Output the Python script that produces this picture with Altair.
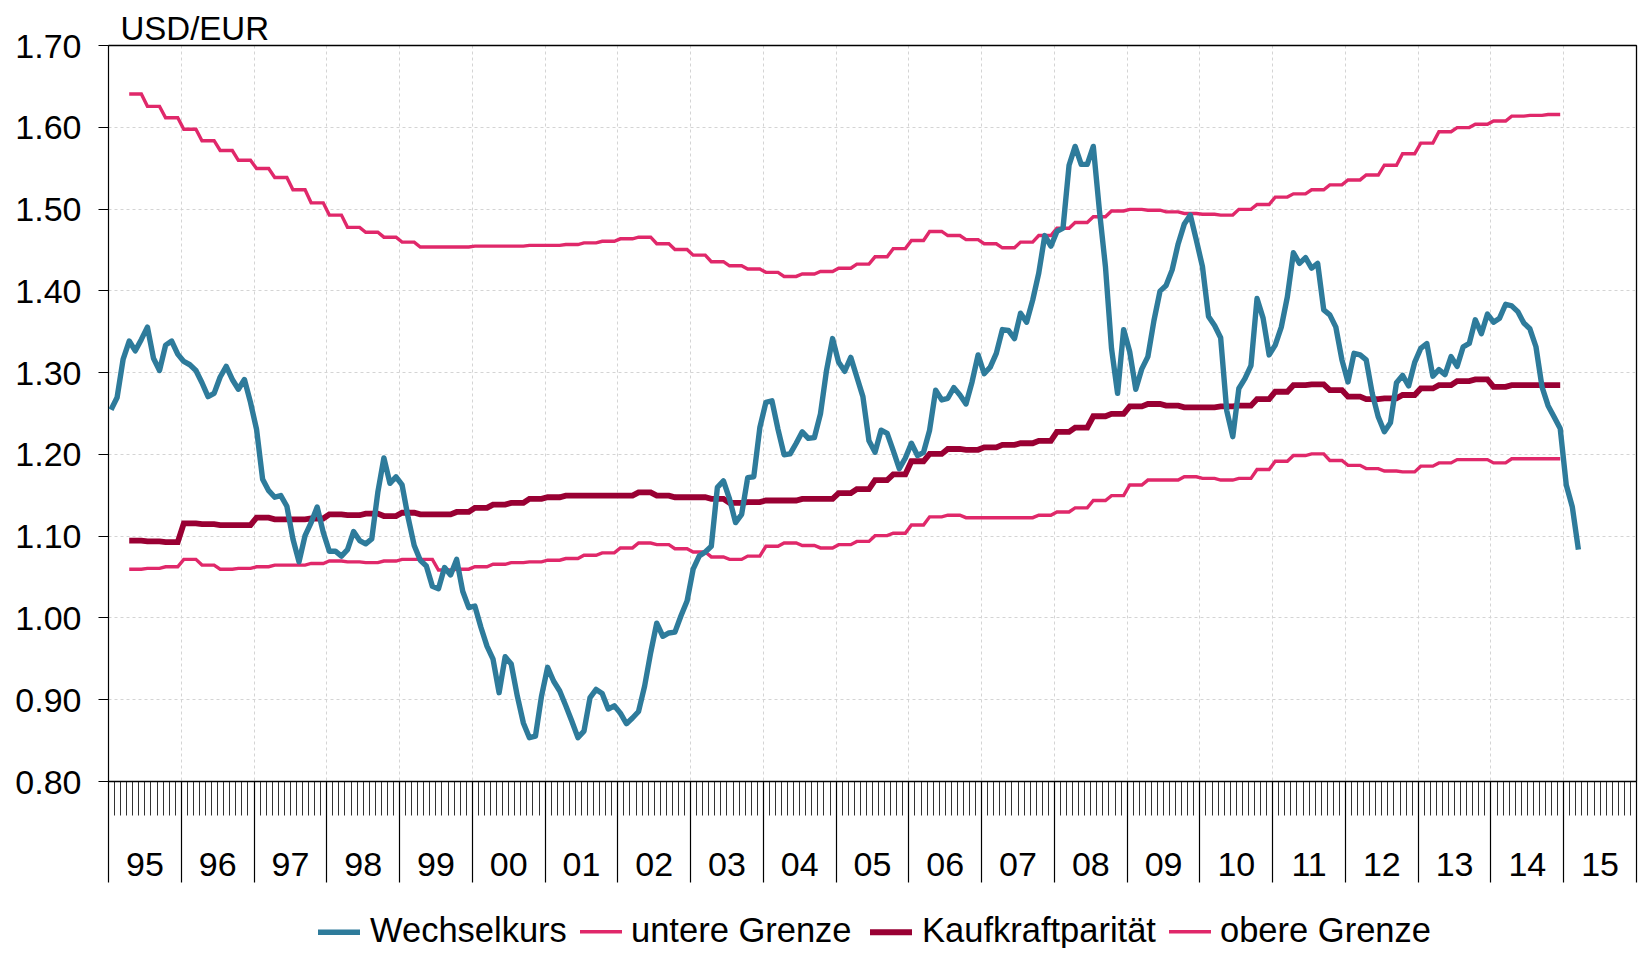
import json
import altair as alt
import pandas as pd

# ---------------- data ----------------
START_YEAR = 1995
YEAR_LABELS = ["95", "96", "97", "98", "99", "00", "01", "02", "03", "04", "05",
               "06", "07", "08", "09", "10", "11", "12", "13", "14", "15"]
YEAR_TICKS = list(range(1995, 2017))
Y_TICKS = [0.80, 0.90, 1.00, 1.10, 1.20, 1.30, 1.40, 1.50, 1.60, 1.70]

SERIES = ["Wechselkurs", "untere Grenze", "Kaufkraftparität", "obere Grenze"]
COLORS = ["#2E7B9B", "#E0286A", "#990033", "#E0286A"]
WIDTHS = [5.4, 3.4, 5.8, 3.4]

# Monthly exchange rate, Jan 1995 .. Mar 2015
FX = [
    1.254, 1.269, 1.316, 1.338, 1.326, 1.340, 1.355, 1.317, 1.302, 1.333, 1.338, 1.322,  # 1995
    1.313, 1.309, 1.302, 1.287, 1.270, 1.274, 1.294, 1.307, 1.291, 1.279, 1.291, 1.263,  # 1996
    1.230, 1.169, 1.155, 1.147, 1.149, 1.136, 1.096, 1.068, 1.100, 1.116, 1.135, 1.104,  # 1997
    1.081, 1.081, 1.075, 1.083, 1.105, 1.094, 1.090, 1.096, 1.153, 1.195, 1.164, 1.172,  # 1998
    1.162, 1.122, 1.088, 1.070, 1.063, 1.038, 1.035, 1.061, 1.052, 1.071, 1.032, 1.012,  # 1999
    1.014, 0.988, 0.965, 0.949, 0.908, 0.952, 0.943, 0.904, 0.871, 0.853, 0.855, 0.904,  # 2000
    0.939, 0.922, 0.910, 0.892, 0.873, 0.853, 0.861, 0.902, 0.912, 0.907, 0.888, 0.892,  # 2001
    0.883, 0.870, 0.877, 0.885, 0.916, 0.957, 0.993, 0.977, 0.981, 0.982, 1.002, 1.020,  # 2002
    1.059, 1.075, 1.080, 1.087, 1.159, 1.167, 1.145, 1.116, 1.126, 1.171, 1.172, 1.232,  # 2003
    1.263, 1.265, 1.230, 1.199, 1.200, 1.213, 1.227, 1.219, 1.220, 1.249, 1.302, 1.341,  # 2004
    1.312, 1.301, 1.318, 1.294, 1.270, 1.216, 1.202, 1.229, 1.225, 1.204, 1.182, 1.195,  # 2005
    1.213, 1.198, 1.202, 1.229, 1.278, 1.266, 1.268, 1.281, 1.272, 1.261, 1.288, 1.321,  # 2006
    1.298, 1.306, 1.323, 1.352, 1.351, 1.341, 1.372, 1.361, 1.388, 1.421, 1.467, 1.454,  # 2007
    1.472, 1.476, 1.553, 1.576, 1.554, 1.554, 1.576, 1.498, 1.429, 1.329, 1.274, 1.352,  # 2008
    1.325, 1.279, 1.304, 1.319, 1.363, 1.399, 1.406, 1.425, 1.457, 1.481, 1.492, 1.461,  # 2009
    1.429, 1.368, 1.357, 1.342, 1.253, 1.221, 1.280, 1.292, 1.308, 1.390, 1.366, 1.321,  # 2010
    1.333, 1.355, 1.392, 1.446, 1.433, 1.440, 1.427, 1.433, 1.376, 1.370, 1.355, 1.315,  # 2011
    1.288, 1.323, 1.321, 1.315, 1.274, 1.245, 1.227, 1.238, 1.287, 1.296, 1.283, 1.312,  # 2012
    1.329, 1.335, 1.295, 1.303, 1.297, 1.319, 1.307, 1.331, 1.335, 1.364, 1.347, 1.371,  # 2013
    1.361, 1.366, 1.383, 1.381, 1.374, 1.360, 1.353, 1.331, 1.282, 1.259, 1.245, 1.231,  # 2014
    1.162, 1.135, 1.083,                                                                  # 2015
]

# Quarterly values (each shown for its three months), 1995Q2 .. 2014Q4
BOUNDS_START_MONTH = 3  # April 1995
UPPER = [
    1.640, 1.625, 1.611,
    1.597, 1.583, 1.571, 1.559,
    1.549, 1.538, 1.523, 1.507,
    1.492, 1.477, 1.471, 1.465,
    1.459, 1.453, 1.453, 1.453,
    1.454, 1.454, 1.454, 1.455,
    1.455, 1.456, 1.458, 1.460,
    1.463, 1.465, 1.457, 1.450,
    1.443, 1.435, 1.430, 1.426,
    1.422, 1.417, 1.420, 1.423,
    1.427, 1.432, 1.441, 1.451,
    1.461, 1.472, 1.467, 1.462,
    1.457, 1.452, 1.459, 1.467,
    1.476, 1.483, 1.490, 1.497,
    1.499, 1.498, 1.496, 1.494,
    1.493, 1.492, 1.499, 1.505,
    1.514, 1.518, 1.523, 1.529,
    1.535, 1.541, 1.553, 1.567,
    1.580, 1.594, 1.599, 1.603,
    1.607, 1.613, 1.614, 1.615,
]
PPP = [
    1.094, 1.093, 1.092,
    1.115, 1.114, 1.113, 1.113,
    1.122, 1.120, 1.120, 1.121,
    1.126, 1.125, 1.127, 1.124,
    1.128, 1.126, 1.126, 1.129,
    1.134, 1.138, 1.140, 1.145,
    1.147, 1.149, 1.149, 1.149,
    1.149, 1.153, 1.149, 1.147,
    1.147, 1.145, 1.140, 1.141,
    1.143, 1.143, 1.145, 1.145,
    1.152, 1.157, 1.168, 1.175,
    1.191, 1.200, 1.206, 1.205,
    1.208, 1.211, 1.213, 1.216,
    1.227, 1.232, 1.246, 1.249,
    1.258, 1.261, 1.259, 1.257,
    1.257, 1.258, 1.259, 1.267,
    1.276, 1.284, 1.285, 1.278,
    1.270, 1.267, 1.268, 1.272,
    1.280, 1.284, 1.289, 1.291,
    1.282, 1.284, 1.284, 1.284,
]
LOWER = [
    1.059, 1.060, 1.062,
    1.071, 1.064, 1.059, 1.060,
    1.062, 1.064, 1.064, 1.066,
    1.069, 1.068, 1.067, 1.069,
    1.071, 1.071, 1.058, 1.059,
    1.062, 1.065, 1.067, 1.068,
    1.070, 1.072, 1.076, 1.079,
    1.085, 1.091, 1.089, 1.084,
    1.080, 1.074, 1.071, 1.075,
    1.087, 1.091, 1.088, 1.085,
    1.089, 1.093, 1.100, 1.103,
    1.113, 1.123, 1.125, 1.122,
    1.122, 1.122, 1.122, 1.125,
    1.129, 1.134, 1.143, 1.149,
    1.162, 1.168, 1.168, 1.172,
    1.170, 1.168, 1.170, 1.181,
    1.191, 1.198, 1.200, 1.192,
    1.186, 1.182, 1.179, 1.178,
    1.185, 1.189, 1.193, 1.193,
    1.189, 1.194, 1.194, 1.194,
]

# ---------------- table ----------------
rows = []
for i, v in enumerate(FX):
    rows.append({"t": START_YEAR + (i + 0.5) / 12, "value": v, "series": "Wechselkurs"})
for name, q in [("untere Grenze", LOWER), ("Kaufkraftparität", PPP), ("obere Grenze", UPPER)]:
    for k, v in enumerate(q):
        for j in range(3):
            m = BOUNDS_START_MONTH + 3 * k + j
            rows.append({"t": START_YEAR + (m + 0.5) / 12, "value": v, "series": name})
df = pd.DataFrame(rows)

MONTH_TICKS = [START_YEAR + k / 12 for k in range(21 * 12 + 1)]

# ---------------- layout ----------------
W, H = 1528, 736
YEAR_W = W / 21.0
FONT = "Liberation Sans"
GRID = "#d4d4d4"

xscale = alt.Scale(domain=[1995, 2016], nice=False, zero=False)
yscale = alt.Scale(domain=[0.8, 1.7], nice=False, zero=False)

# the outermost grid lines form the black frame (top / right)
y_grid_color = {"condition": {"test": "datum.value > 1.65", "value": "black"}, "value": GRID}
y_grid_dash = {"condition": {"test": "datum.value > 1.65", "value": []}, "value": [3, 3]}
y_grid_width = {"condition": {"test": "datum.value > 1.65", "value": 1.3}, "value": 1}
x_grid_color = {"condition": {"test": "datum.value > 2015.5", "value": "black"}, "value": GRID}
x_grid_dash = {"condition": {"test": "datum.value > 2015.5", "value": []}, "value": [3, 3]}
x_grid_width = {"condition": {"test": "datum.value > 2015.5", "value": 1.3}, "value": 1}

yaxis = alt.Axis(
    values=Y_TICKS, format=".2f", tickSize=10, tickColor="black", tickWidth=1,
    domainColor="black", domainWidth=1.2, labelFontSize=34, labelPadding=17,
    labelColor="black", labelFont=FONT, labelOffset=2,
    grid=True, gridColor=y_grid_color, gridDash=y_grid_dash, gridWidth=y_grid_width,
    title="USD/EUR", titleAngle=0, titleAlign="left", titleBaseline="alphabetic",
    titleX=12, titleY=-6, titleFontSize=33, titleFontWeight="normal",
    titleFont=FONT, titleColor="black",
)

legend = alt.Legend(
    title=None, orient="none", legendX=207, legendY=863, direction="horizontal",
    symbolType="stroke", symbolSize=1764, labelFontSize=34.5, labelFont=FONT,
    labelColor="black", labelOffset=7, columnPadding=6, labelLimit=400,
)

color = alt.Color("series:N", scale=alt.Scale(domain=SERIES, range=COLORS), legend=legend)
swidth = alt.StrokeWidth(
    "series:N", scale=alt.Scale(type="ordinal", domain=SERIES, range=WIDTHS), legend=legend
)

month_axis = alt.Axis(
    orient="bottom", values=MONTH_TICKS, labels=False, ticks=True, tickSize=34,
    tickColor="#333333", tickWidth=1, domain=True, domainColor="black",
    domainWidth=1.5, grid=False, title=None,
)

year_expr = json.dumps(YEAR_LABELS) + "[datum.value - 1995] || ''"
year_axis = alt.Axis(
    orient="bottom", values=YEAR_TICKS, labelExpr=year_expr, ticks=True,
    tickSize=101, tickColor="black", tickWidth=1.2, domain=False,
    labelOffset=YEAR_W / 2, labelPadding=-17, labelBaseline="middle",
    labelAlign="center", labelFontSize=34, labelFont=FONT, labelColor="black",
    labelFlush=False, labelOverlap=False,
    grid=True, gridColor=x_grid_color, gridDash=x_grid_dash, gridWidth=x_grid_width,
    title=None,
)

bounds = alt.Chart(df).transform_filter(
    alt.datum.series != "Wechselkurs"
).mark_line(strokeJoin="miter").encode(
    x=alt.X("t:Q", scale=xscale, axis=month_axis),
    y=alt.Y("value:Q", scale=yscale, axis=yaxis),
    color=color,
    strokeWidth=swidth,
    detail="series:N",
)

fx = alt.Chart(df).transform_filter(
    alt.datum.series == "Wechselkurs"
).mark_line(strokeJoin="round").encode(
    x=alt.X("t:Q", scale=xscale, axis=year_axis),
    y=alt.Y("value:Q", scale=yscale, axis=yaxis),
    color=color,
    strokeWidth=swidth,
)

chart = alt.layer(bounds, fx).resolve_scale(x="shared").resolve_axis(
    x="independent"
).properties(
    width=W, height=H,
    autosize=alt.AutoSizeParams(type="none"),
    padding={"left": 100, "top": 37, "right": 2, "bottom": 167},
).configure(
    font=FONT, background="white"
).configure_view(
    stroke="black", strokeWidth=1
)

chart.save("out.html", embed_options={"renderer": "svg", "actions": False})
